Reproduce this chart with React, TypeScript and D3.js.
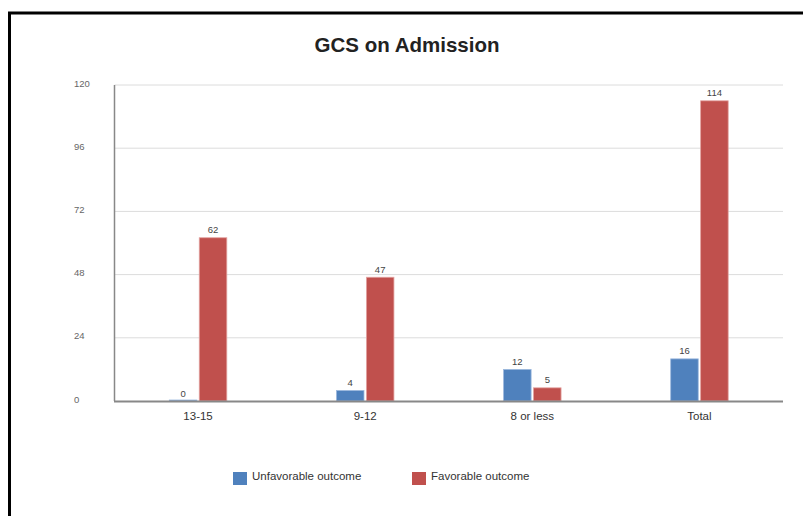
import React from "react";
import * as d3 from "d3";

// Outcome counts by Glasgow Coma Scale band on admission
const categories = ["13-15", "9-12", "8 or less", "Total"];
const seriesNames = ["Unfavorable outcome", "Favorable outcome"];
const unfavorable = [0, 4, 12, 16];
const favorable = [62, 47, 5, 114];
const yTicks = [0, 24, 48, 72, 96, 120];
const seriesColors = ["#4F81BD", "#C0504D"];
const seriesStrokes = ["#9DB9DE", "#E3A3A1"];

const W = 803;
const H = 516;
const FONT = "'Liberation Sans', Arial, sans-serif";

export default function App() {
  const left = 114.5;
  const right = 783;
  const top = 85;
  const bottom = 401;

  const x = d3.scaleBand<string>().domain(categories).range([left, right]).padding(0);
  const y = d3.scaleLinear().domain([0, 120]).range([bottom, top]);
  const inner = d3.scaleBand<number>().domain([0, 1]).range([0, 57.5]).paddingInner(0.08);

  const series = [unfavorable, favorable];

  return (
    <svg
      width={W}
      height={H}
      style={{ position: "absolute", left: 0, top: 0, background: "#fff" }}
      fontFamily={FONT}
    >
      {/* frame */}
      <rect x={9.5} y={13} width={W + 20} height={H + 20} fill="#fff" stroke="#000" strokeWidth={3} />

      <text x={407} y={52} textAnchor="middle" fontSize={20.5} fontWeight="bold" fill="#222">
        GCS on Admission
      </text>

      {/* gridlines and y tick labels */}
      {yTicks.map((t) => (
        <g key={t}>
          {t > 0 && (
            <line x1={left} x2={right} y1={y(t)} y2={y(t)} stroke="#dcdcdc" strokeWidth={1} />
          )}
          <text x={74} y={y(t) - 1} dominantBaseline="middle" fontSize={9.5} fill="#666">
            {t}
          </text>
        </g>
      ))}

      {/* bars and value labels */}
      {categories.map((c, ci) => {
        const cx = (x(c) as number) + x.bandwidth() / 2;
        const gx = cx - 57.5 / 2;
        return (
          <g key={c}>
            {series.map((vals, si) => {
              const bx = gx + (inner(si) as number);
              const bw = inner.bandwidth();
              const v = vals[ci];
              return (
                <g key={si}>
                  <rect
                    x={bx}
                    y={y(v) - (v === 0 ? 1 : 0)}
                    width={bw}
                    height={Math.max(bottom - y(v), 1)}
                    fill={seriesColors[si]}
                    stroke={seriesStrokes[si]}
                    strokeWidth={0.8}
                  />
                  <text
                    x={bx + bw / 2}
                    y={y(v) - 4.5}
                    textAnchor="middle"
                    fontSize={9.5}
                    fill="#444"
                  >
                    {v}
                  </text>
                </g>
              );
            })}
            <text x={cx} y={417} dominantBaseline="middle" textAnchor="middle" fontSize={11.5} fill="#333">
              {c}
            </text>
          </g>
        );
      })}

      {/* axes */}
      <line x1={left} x2={left} y1={top} y2={bottom} stroke="#888" strokeWidth={1.5} />
      <line x1={left - 0.5} x2={right} y1={bottom + 0.5} y2={bottom + 0.5} stroke="#888" strokeWidth={2} />

      {/* legend */}
      {seriesNames.map((name, i) => {
        const lx = [233, 412][i];
        return (
          <g key={name}>
            <rect x={lx} y={472} width={14} height={13} fill={seriesColors[i]} />
            <text x={lx + 19} y={477} dominantBaseline="middle" fontSize={11.5} fill="#333">
              {name}
            </text>
          </g>
        );
      })}
    </svg>
  );
}
